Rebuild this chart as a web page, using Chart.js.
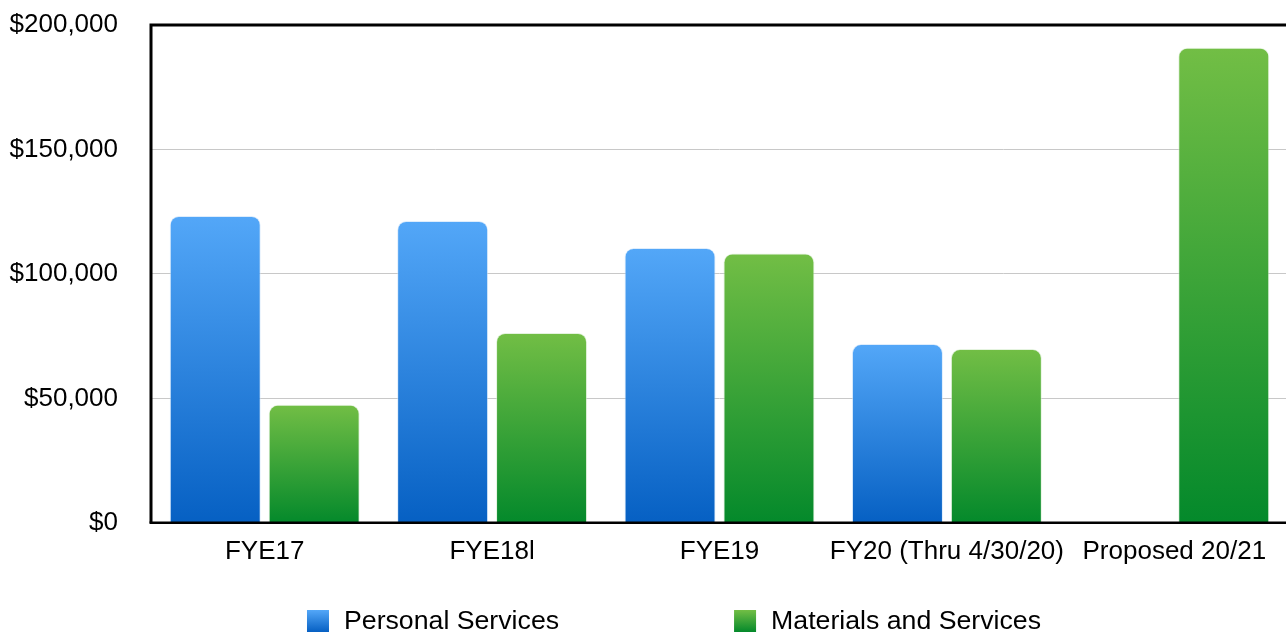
<!DOCTYPE html>
<html lang="en">
<head>
<meta charset="UTF-8">
<title>Budget by Fiscal Year</title>
<script src="https://cdn.jsdelivr.net/npm/chart.js"></script>
<style>
    html, body { margin: 0; padding: 0; overflow: hidden; background: #fff; }
    #wrap { position: absolute; left: 0; top: 0; width: 1300px; height: 633px; }
</style>
</head>
<body>
<div id="wrap"><canvas id="budgetChart"></canvas></div>

<script>
    const categories = ['FYE17', 'FYE18l', 'FYE19', 'FY20 (Thru 4/30/20)', 'Proposed 20/21'];
    const personalServices = [123300, 121300, 110400, 71800, null];
    const materialsServices = [47400, 76300, 108200, 69800, 190900];
    const yTicks = [0, 50000, 100000, 150000, 200000];

    const FONT = "'Liberation Sans', Helvetica, Arial, sans-serif";
    const blue = ['#53a7f8', '#0660c3'];
    const green = ['#72be45', '#04892b'];

    function barGradient(context, stops) {
        const chart = context.chart;
        if (!chart.chartArea || context.raw == null) return stops[1];
        const y = chart.scales.y;
        const g = chart.ctx.createLinearGradient(0, y.getPixelForValue(context.raw), 0, y.getPixelForValue(0));
        g.addColorStop(0, stops[0]);
        g.addColorStop(1, stops[1]);
        return g;
    }

    // black frame: left, top and bottom of the plot area
    const framePlugin = {
        id: 'frame',
        afterDatasetsDraw(chart) {
            const { ctx, chartArea: a } = chart;
            ctx.save();
            ctx.strokeStyle = '#000';
            ctx.lineWidth = 3;
            ctx.beginPath();
            ctx.moveTo(a.left, a.bottom);
            ctx.lineTo(a.left, a.top);
            ctx.lineTo(a.right + 5, a.top);
            ctx.stroke();
            ctx.lineWidth = 2.5;
            ctx.beginPath();
            ctx.moveTo(a.left - 1.5, a.bottom);
            ctx.lineTo(a.right + 5, a.bottom);
            ctx.stroke();
            ctx.restore();
        }
    };

    // legend drawn under the axis, spread like the original
    const legendPlugin = {
        id: 'wideLegend',
        afterDraw(chart) {
            const { ctx } = chart;
            const box = 22, textGap = 15, itemGap = 175, cy = 621;
            ctx.save();
            ctx.font = '26.7px ' + FONT;
            ctx.textBaseline = 'middle';
            const items = chart.data.datasets.map(ds => ({
                label: ds.label, stops: ds.stops, w: box + textGap + ctx.measureText(ds.label).width
            }));
            const total = items.reduce((s, it) => s + it.w, 0) + itemGap * (items.length - 1);
            const centerX = (60 + chart.chartArea.right) / 2;
            let x = centerX - total / 2;
            items.forEach(it => {
                const g = ctx.createLinearGradient(0, cy - box / 2, 0, cy + box / 2);
                g.addColorStop(0, it.stops[0]);
                g.addColorStop(1, it.stops[1]);
                ctx.fillStyle = g;
                ctx.fillRect(x, cy - box / 2, box, box);
                ctx.fillStyle = '#000';
                ctx.fillText(it.label, x + box + textGap, cy + 1);
                x += it.w + itemGap;
            });
            ctx.restore();
        }
    };

    const ctx = document.getElementById('budgetChart').getContext('2d');
    const budgetChart = new Chart(ctx, {
        type: 'bar',
        data: {
            labels: categories,
            datasets: [
                {
                    label: 'Personal Services',
                    data: personalServices,
                    stops: blue,
                    backgroundColor: c => barGradient(c, blue),
                    borderColor: 'rgba(200,225,250,0.6)',
                    borderWidth: 1,
                    borderRadius: 9
                },
                {
                    label: 'Materials and Services',
                    data: materialsServices,
                    stops: green,
                    backgroundColor: c => barGradient(c, green),
                    borderColor: 'rgba(210,235,200,0.6)',
                    borderWidth: 1,
                    borderRadius: 9
                }
            ]
        },
        options: {
            responsive: true,
            maintainAspectRatio: false,
            animation: false,
            categoryPercentage: 0.87,
            barPercentage: 0.92,
            layout: { padding: { left: 0, right: 12, top: 25, bottom: 61 } },
            plugins: {
                legend: { display: false },
                tooltip: { enabled: false }
            },
            scales: {
                x: {
                    grid: { display: false },
                    border: { display: false },
                    ticks: {
                        color: '#000',
                        font: { family: FONT, size: 26 },
                        padding: 5,
                        maxRotation: 0,
                        autoSkip: false
                    }
                },
                y: {
                    min: 0,
                    max: 200000,
                    afterBuildTicks: scale => { scale.ticks = yTicks.map(v => ({ value: v })); },
                    afterFit: scale => { scale.width = 151; },
                    grid: { color: '#c8c8c8', lineWidth: 1, drawTicks: true, tickLength: 33, tickColor: 'rgba(0,0,0,0)' },
                    border: { display: false },
                    ticks: {
                        color: '#000',
                        font: { family: FONT, size: 26 },
                        padding: 0,
                        callback: v => '$' + Number(v).toLocaleString('en-US')
                    }
                }
            }
        },
        plugins: [framePlugin, legendPlugin]
    });
</script>
</body>
</html>
